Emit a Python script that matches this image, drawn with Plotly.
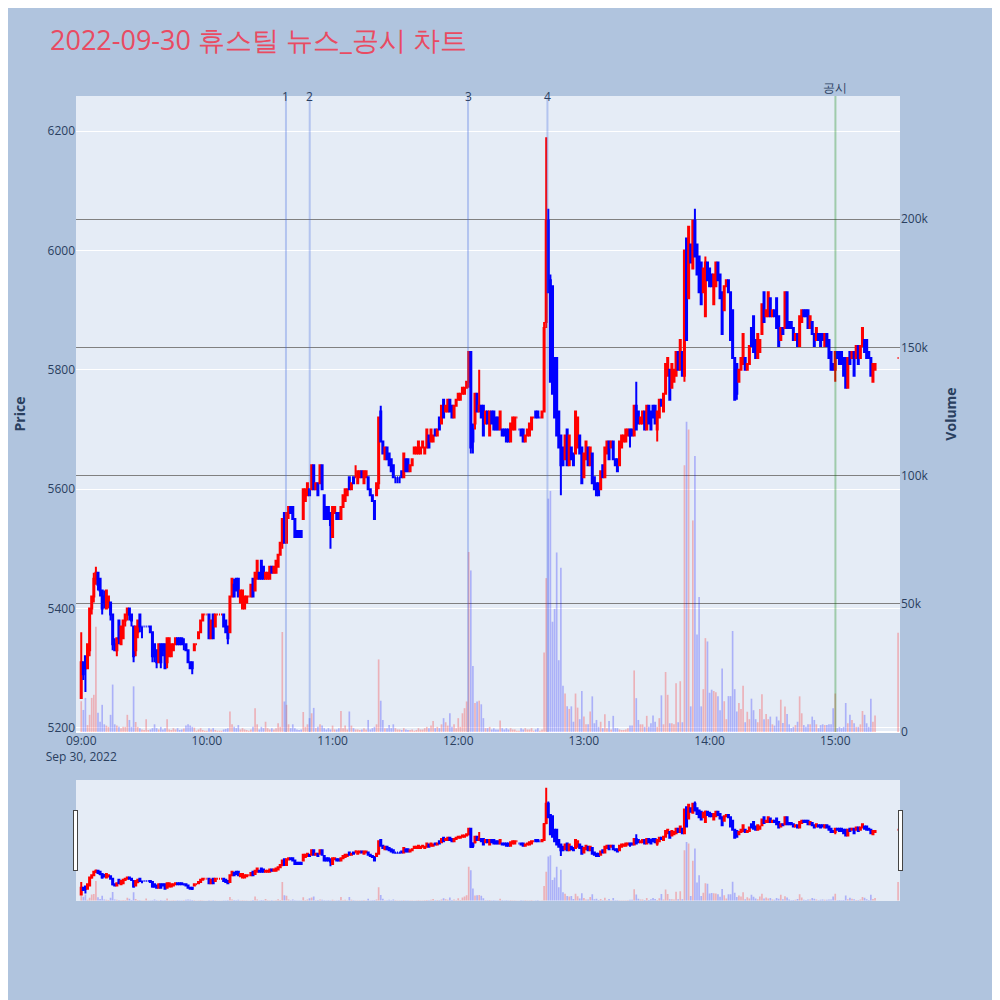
import pandas as pd
import plotly.graph_objects as go

# ---- minute candles 09:00 .. 15:19, plus the 15:30 closing auction ----
open_ = [
    5250,5310,5320,5300,5330,5400,5420,5450,5460,5450,
    5430,5420,5400,5410,5410,5390,5340,5330,5380,5340,
    5350,5380,5390,5400,5390,5370,5330,5360,5390,5370,
    5370,5370,5370,5370,5360,5340,5330,5310,5340,5340,
    5340,5310,5320,5320,5330,5340,5350,5350,5350,5340,
    5340,5330,5310,5310,5330,5340,5350,5360,5380,5390,
    5390,5390,5350,5390,5370,5390,5390,5390,5390,5380,
    5370,5360,5420,5440,5450,5450,5410,5400,5400,5410,
    5420,5420,5450,5430,5450,5460,5480,5470,5450,5450,
    5450,5470,5460,5460,5470,5490,5510,5560,5510,5560,
    5570,5570,5550,5530,5530,5530,5550,5580,5590,5600,
    5600,5640,5600,5610,5610,5640,5590,5570,5570,5560,
    5520,5560,5560,5560,5550,5570,5580,5590,5620,5600,
    5620,5620,5610,5620,5630,5610,5620,5620,5600,5590,
    5580,5590,5610,5730,5680,5650,5670,5660,5650,5640,
    5620,5620,5620,5630,5620,5650,5650,5630,5640,5660,
    5660,5660,5660,5670,5660,5670,5690,5680,5680,5700,
    5690,5720,5710,5750,5730,5730,5750,5740,5720,5740,
    5750,5750,5760,5760,5770,5780,5830,5700,5710,5760,
    5730,5740,5740,5710,5730,5690,5730,5730,5720,5720,
    5700,5700,5700,5700,5700,5680,5700,5700,5720,5700,
    5700,5700,5680,5690,5690,5700,5720,5730,5730,5720,
    5720,5730,5880,6050,5950,5940,5820,5820,5730,5690,
    5670,5650,5700,5640,5670,5660,5660,5670,5690,5670,
    5620,5650,5670,5640,5660,5620,5610,5610,5600,5640,
    5620,5660,5680,5670,5680,5650,5650,5640,5670,5680,
    5680,5690,5700,5700,5690,5740,5730,5710,5710,5730,
    5700,5740,5730,5740,5740,5700,5720,5750,5730,5760,
    5790,5800,5770,5780,5790,5830,5800,5830,5790,6020,
    5920,6010,5970,6050,6010,5990,5980,5930,5890,5980,
    5970,5960,5910,5940,5980,5960,5930,5900,5940,5950,
    5930,5900,5820,5810,5780,5800,5810,5820,5800,5810,
    5870,5890,5850,5820,5830,5860,5930,5890,5890,5920,
    5890,5900,5920,5890,5850,5870,5870,5930,5880,5880,
    5870,5850,5860,5840,5880,5900,5900,5900,5870,5880,
    5860,5850,5860,5860,5860,5840,5860,5850,5830,5810,
    5800,5830,5830,5830,5820,5820,5770,5830,5820,5830,
    5820,5840,5820,5840,5850,5850,5830,5820,5780,5800,
    5820,
]
high = [
    5360,5310,5320,5340,5400,5420,5460,5470,5460,5450,
    5430,5430,5430,5420,5410,5390,5350,5350,5380,5370,
    5380,5390,5400,5400,5390,5370,5370,5380,5390,5370,
    5370,5370,5370,5370,5360,5340,5330,5340,5340,5340,
    5340,5350,5350,5340,5340,5350,5350,5350,5350,5350,
    5340,5330,5310,5310,5340,5340,5360,5380,5390,5390,
    5390,5390,5380,5390,5390,5390,5390,5390,5390,5380,
    5370,5420,5450,5450,5450,5450,5430,5430,5420,5420,
    5420,5440,5450,5460,5480,5460,5480,5470,5460,5460,
    5470,5470,5470,5480,5490,5510,5550,5560,5560,5570,
    5570,5570,5550,5530,5530,5530,5600,5600,5610,5600,
    5640,5640,5610,5610,5640,5640,5590,5570,5570,5560,
    5570,5570,5560,5560,5570,5590,5600,5600,5620,5610,
    5620,5640,5630,5630,5630,5630,5630,5620,5600,5590,
    5580,5610,5720,5740,5680,5670,5670,5660,5650,5640,
    5620,5620,5620,5630,5660,5650,5650,5640,5650,5670,
    5670,5680,5670,5680,5670,5700,5690,5700,5690,5700,
    5700,5720,5740,5750,5740,5750,5750,5740,5740,5750,
    5760,5760,5770,5770,5780,5830,5830,5710,5760,5760,
    5800,5740,5740,5730,5730,5730,5730,5730,5720,5720,
    5730,5700,5700,5700,5700,5710,5720,5720,5720,5700,
    5700,5700,5690,5700,5710,5720,5720,5730,5730,5720,
    5730,5880,6190,6070,5960,5940,5820,5820,5730,5690,
    5670,5690,5700,5690,5670,5660,5730,5720,5690,5670,
    5660,5680,5670,5670,5660,5620,5610,5610,5630,5640,
    5670,5680,5680,5680,5680,5650,5650,5680,5690,5690,
    5700,5700,5700,5700,5740,5780,5730,5720,5730,5730,
    5740,5740,5730,5740,5740,5730,5750,5750,5760,5810,
    5820,5800,5810,5800,5830,5830,5850,5830,6000,6020,
    6040,6010,6050,6070,6010,5990,5980,5970,5990,5980,
    5970,5960,5960,5980,5980,5960,5930,5940,5950,5950,
    5930,5900,5820,5810,5800,5820,5860,5820,5810,5840,
    5870,5890,5850,5860,5850,5910,5930,5900,5930,5920,
    5900,5900,5920,5890,5870,5870,5930,5930,5880,5880,
    5870,5860,5860,5890,5900,5900,5900,5900,5890,5880,
    5860,5870,5860,5860,5860,5860,5860,5850,5830,5810,
    5830,5830,5830,5830,5820,5820,5820,5830,5830,5830,
    5840,5840,5840,5870,5850,5850,5830,5820,5810,5810,
    5820,
]
low = [
    5250,5280,5260,5300,5320,5390,5410,5440,5430,5420,
    5390,5400,5400,5400,5380,5330,5330,5320,5340,5340,
    5350,5370,5380,5380,5370,5310,5320,5350,5360,5350,
    5370,5370,5370,5360,5310,5310,5300,5310,5300,5320,
    5300,5300,5320,5320,5330,5340,5340,5340,5340,5330,
    5330,5310,5300,5290,5330,5340,5350,5360,5380,5390,
    5390,5350,5350,5350,5370,5390,5390,5390,5370,5360,
    5340,5360,5420,5420,5430,5420,5410,5400,5400,5410,
    5420,5420,5420,5430,5450,5450,5450,5450,5450,5450,
    5450,5460,5460,5460,5470,5490,5500,5510,5510,5550,
    5560,5550,5520,5520,5520,5520,5550,5580,5590,5590,
    5600,5600,5600,5590,5610,5600,5550,5550,5550,5500,
    5520,5560,5550,5550,5550,5570,5580,5590,5600,5600,
    5610,5620,5610,5620,5620,5610,5620,5600,5590,5580,
    5550,5590,5600,5680,5660,5650,5650,5640,5630,5620,
    5610,5610,5610,5620,5620,5630,5630,5630,5640,5660,
    5660,5660,5660,5670,5660,5670,5670,5680,5680,5690,
    5690,5700,5710,5720,5730,5730,5730,5720,5720,5740,
    5750,5750,5760,5760,5770,5770,5660,5660,5700,5730,
    5730,5720,5690,5710,5710,5690,5710,5700,5700,5700,
    5700,5690,5690,5680,5680,5680,5700,5700,5720,5700,
    5690,5680,5680,5690,5690,5700,5720,5720,5720,5720,
    5720,5730,5870,5930,5780,5760,5720,5690,5670,5590,
    5640,5650,5640,5640,5650,5640,5660,5670,5660,5610,
    5620,5650,5640,5640,5610,5600,5590,5590,5600,5620,
    5620,5660,5650,5670,5650,5640,5630,5640,5670,5680,
    5680,5690,5670,5690,5690,5700,5710,5710,5710,5700,
    5700,5710,5700,5720,5710,5680,5720,5740,5730,5760,
    5790,5750,5770,5780,5790,5800,5800,5790,5780,5850,
    5920,5980,5970,5990,5960,5930,5910,5930,5890,5950,
    5940,5940,5910,5940,5950,5920,5860,5900,5940,5930,
    5850,5820,5750,5750,5780,5800,5810,5800,5800,5810,
    5840,5830,5820,5820,5830,5860,5880,5890,5890,5890,
    5890,5890,5870,5840,5850,5860,5870,5870,5870,5870,
    5850,5850,5840,5840,5880,5890,5890,5870,5870,5860,
    5840,5850,5850,5840,5850,5840,5840,5820,5800,5800,
    5780,5820,5810,5810,5790,5770,5770,5810,5820,5790,
    5820,5810,5820,5840,5830,5820,5820,5790,5780,5800,
    5820,
]
close = [
    5310,5290,5300,5340,5400,5420,5450,5460,5440,5430,
    5400,5410,5430,5420,5390,5340,5330,5350,5350,5370,
    5380,5390,5400,5390,5380,5320,5370,5380,5370,5370,
    5370,5370,5370,5360,5320,5320,5310,5340,5310,5330,
    5300,5350,5350,5340,5340,5350,5340,5340,5340,5340,
    5330,5310,5300,5300,5340,5340,5360,5380,5390,5390,
    5390,5350,5380,5350,5390,5390,5390,5390,5370,5360,
    5350,5420,5450,5420,5430,5420,5430,5430,5420,5420,
    5420,5440,5420,5460,5480,5450,5450,5450,5460,5460,
    5470,5460,5470,5480,5490,5510,5550,5510,5560,5570,
    5560,5550,5520,5520,5520,5520,5600,5600,5610,5590,
    5640,5600,5610,5590,5640,5600,5550,5550,5550,5540,
    5570,5570,5550,5550,5570,5590,5600,5600,5600,5610,
    5610,5620,5630,5630,5620,5630,5630,5600,5590,5580,
    5550,5610,5720,5680,5660,5670,5650,5640,5630,5620,
    5620,5620,5620,5620,5660,5630,5630,5640,5650,5670,
    5670,5680,5670,5680,5670,5700,5670,5700,5690,5690,
    5700,5700,5740,5720,5740,5750,5730,5720,5740,5750,
    5760,5760,5770,5770,5780,5830,5670,5680,5760,5730,
    5740,5720,5690,5730,5710,5730,5710,5700,5700,5700,
    5730,5690,5690,5680,5680,5710,5720,5720,5720,5700,
    5690,5680,5690,5700,5710,5720,5720,5720,5720,5720,
    5730,5870,6050,5930,5780,5760,5720,5690,5670,5640,
    5640,5690,5640,5690,5650,5640,5730,5720,5660,5610,
    5660,5680,5640,5670,5610,5600,5590,5590,5630,5620,
    5670,5680,5650,5680,5650,5640,5630,5680,5690,5690,
    5700,5700,5690,5690,5740,5700,5710,5720,5730,5700,
    5740,5710,5700,5720,5710,5730,5750,5740,5760,5810,
    5820,5750,5810,5800,5830,5800,5850,5790,6000,5850,
    6040,5980,6050,5990,5960,5930,5910,5970,5980,5950,
    5940,5940,5960,5980,5950,5920,5860,5940,5950,5930,
    5850,5820,5750,5760,5800,5820,5860,5800,5810,5840,
    5840,5830,5820,5860,5850,5910,5880,5900,5930,5890,
    5900,5890,5870,5840,5870,5860,5930,5870,5870,5870,
    5850,5860,5840,5890,5900,5890,5890,5870,5890,5860,
    5840,5870,5850,5840,5850,5860,5840,5820,5800,5800,
    5830,5820,5810,5810,5790,5770,5820,5810,5830,5790,
    5840,5810,5840,5870,5830,5820,5820,5790,5810,5810,
    5820,
]
volume = [
    12000,8600,13300,2700,6700,13300,14500,41000,7500,4000,
    10600,3000,2500,2000,6700,18500,3000,2500,2000,1500,
    2000,2000,6700,4700,2000,17800,3900,2000,1500,1000,
    800,5000,800,1000,1500,3000,1500,1000,2000,1000,
    1500,5000,1000,800,1500,1000,1500,800,1000,1400,
    2500,3000,2500,2000,1700,500,1000,1500,800,500,
    500,1500,1000,1500,800,500,500,500,1000,1200,
    1500,8000,3000,2000,1500,2700,1000,1500,1000,800,
    500,1000,2000,9300,3000,1000,2000,1500,4000,1500,
    1000,1500,1000,1500,3400,2000,39000,11900,10600,3000,
    1500,3000,1500,1000,800,1000,7800,2000,3000,5400,
    7300,9400,1500,2000,3000,2500,1500,1000,1500,1000,
    2500,1000,1000,1500,8200,1500,2500,1000,8000,2500,
    1500,1000,1000,800,1000,1500,1000,4700,1000,1500,
    2000,3000,28300,12200,4700,1500,1500,2700,1500,3000,
    1500,1000,1000,800,1500,1000,800,800,1000,500,
    800,1500,1000,1000,1500,2000,1500,2500,4300,1500,
    2000,1500,3000,5400,3800,2500,7300,2000,3000,1500,
    5400,2000,7300,9300,11900,70200,63000,25700,11300,11900,
    12200,10800,5400,1500,1500,2000,1000,1500,1000,1000,
    4500,1500,1000,1500,1000,1500,1000,1000,500,500,
    1500,1000,1500,1000,1000,1500,500,1000,1500,500,
    1000,31000,60000,91000,94000,43000,48000,70000,28000,64000,
    18000,15000,10000,9000,10000,4000,15000,9500,5000,16000,
    6000,3000,3000,8000,13900,3400,4700,2000,4000,1500,
    6900,1500,4300,1000,6300,1500,1500,1000,800,800,
    1000,1500,2500,2500,24000,13200,4700,3000,3000,2000,
    6300,2000,3400,6400,4000,2000,5400,14300,3000,23400,
    14500,3400,3400,3000,19000,3800,19800,3800,104000,121000,
    118000,10000,82500,107600,38000,52600,10000,16700,36600,35300,
    15300,16500,16000,15500,13900,8500,24800,12000,5000,14000,
    14000,39400,16700,8000,11300,9000,18000,3800,7900,5000,
    13000,8500,5000,3800,9000,14700,5000,7000,5000,6000,
    3000,2500,6000,4500,12600,3500,9900,7000,3000,1500,
    2000,2700,4000,13900,7300,2700,2000,3000,3000,6000,
    4700,3000,1500,2700,3000,2700,2700,3000,3000,9300,
    15000,1500,2000,1500,2000,11300,3400,6700,4700,3400,
    2000,2000,3000,8200,6700,3400,2000,13000,4000,6400,
    38700,
]
times = (pd.date_range("2022-09-30 09:00", "2022-09-30 15:19", freq="min")
         .strftime("%Y-%m-%d %H:%M:%S").tolist() + ["2022-09-30 15:30:00"])

# news / disclosure markers
news_times = ["2022-09-30 10:37:45", "2022-09-30 10:49:05",
              "2022-09-30 12:04:40", "2022-09-30 12:42:35"]
news_labels = ["1", "2", "3", "4"]
disc_times = ["2022-09-30 15:00:05"]
disc_labels = ["공시"]

x_range = ["2022-09-30 08:57:30", "2022-09-30 15:30:55"]
price_range = [5193, 6259]
volume_range = [0, 248000]

vol_colors = ["rgba(255,0,0,0.25)" if c >= o else "rgba(0,0,255,0.25)"
              for o, c in zip(open_, close)]

fig = go.Figure()
fig.add_trace(go.Candlestick(
    x=times, open=open_, high=high, low=low, close=close, name="Price",
    increasing=dict(line=dict(color="#FF0000", width=2), fillcolor="#FF0000"),
    decreasing=dict(line=dict(color="#0000FF", width=2), fillcolor="#0000FF"),
    yaxis="y"))
fig.add_trace(go.Bar(
    x=times, y=volume, name="Volume", yaxis="y2",
    marker=dict(color=vol_colors, line=dict(width=0))))

for t, lab in zip(news_times, news_labels):
    fig.add_shape(type="line", xref="x", yref="paper", x0=t, x1=t, y0=0, y1=1,
                  line=dict(color="royalblue", width=2), opacity=0.3)
    fig.add_annotation(x=t, y=1, xref="x", yref="paper", text=lab,
                       showarrow=False, yanchor="middle",
                       font=dict(size=12, color="#2a3f5f"))
for t, lab in zip(disc_times, disc_labels):
    fig.add_shape(type="line", xref="x", yref="paper", x0=t, x1=t, y0=0, y1=1,
                  line=dict(color="green", width=2), opacity=0.3)
    fig.add_annotation(x=t, y=1, xref="x", yref="paper", text=lab,
                       showarrow=False, yanchor="bottom", yshift=-2,
                       font=dict(size=12, color="#2a3f5f"))

fig.update_layout(
    width=1000, height=1000,
    template="plotly",
    paper_bgcolor="lightsteelblue",
    plot_bgcolor="#E5ECF6",
    showlegend=False,
    title=dict(text="2022-09-30 휴스틸 뉴스_공시 차트", x=0.042, xanchor="left",
               y=0.967, yanchor="middle",
               font=dict(size=27, color="#E94B62")),
    margin=dict(l=60, r=108, t=88, b=108),
    xaxis=dict(type="date", range=x_range, showgrid=False,
               rangeslider=dict(visible=True, bgcolor="#E5ECF6", range=x_range)),
    yaxis=dict(title=dict(text="<b>Price</b>", standoff=18), range=price_range,
               dtick=200, showgrid=True, gridcolor="white"),
    yaxis2=dict(title=dict(text="<b>Volume</b>", standoff=18), range=volume_range,
                overlaying="y", side="right", dtick=50000,
                showgrid=True, gridcolor="gray"),
)

fig.write_html("out.html")
